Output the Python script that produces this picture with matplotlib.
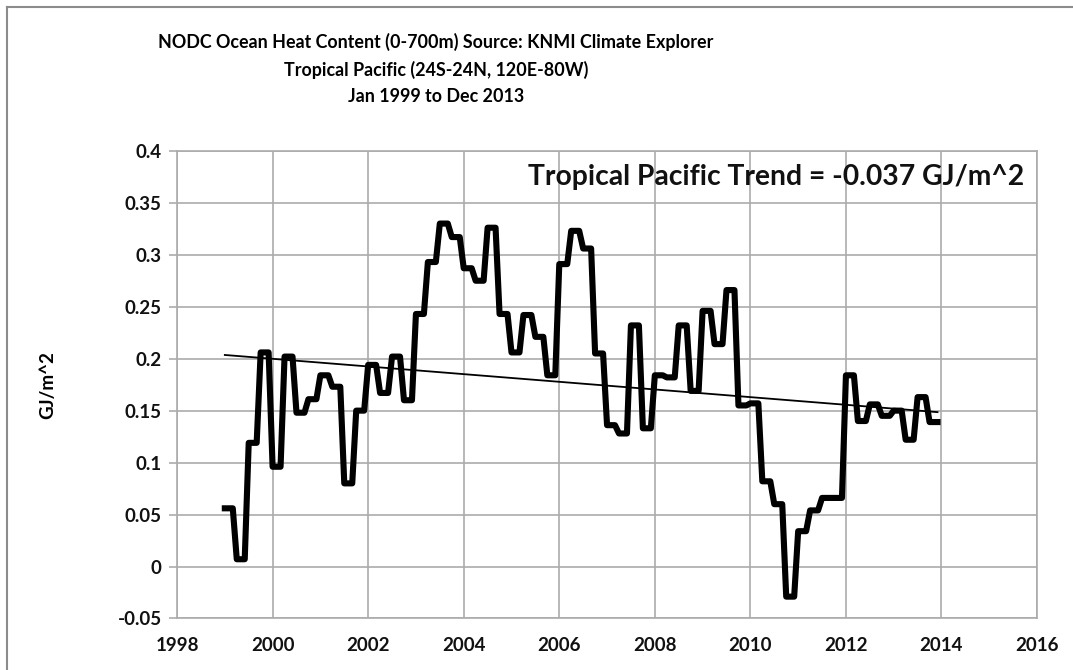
import numpy as np
import matplotlib
matplotlib.use('Agg')
import matplotlib.pyplot as plt
from matplotlib.lines import Line2D

plt.rcParams['font.family'] = ['Lato', 'DejaVu Sans']
plt.rcParams['font.weight'] = 'bold'

# quarterly OHC values (GJ/m^2), Q1 1999 .. Q4 2013
ohc_q = [0.056, 0.007, 0.119, 0.206, 0.096, 0.202, 0.148, 0.161,
         0.184, 0.173, 0.080, 0.150, 0.194, 0.167, 0.202, 0.160,
         0.243, 0.293, 0.330, 0.317, 0.287, 0.275, 0.326, 0.243,
         0.206, 0.242, 0.221, 0.184, 0.291, 0.323, 0.306, 0.205,
         0.136, 0.128, 0.232, 0.133, 0.184, 0.182, 0.232, 0.169,
         0.246, 0.214, 0.266, 0.155, 0.157, 0.082, 0.060, -0.029,
         0.034, 0.054, 0.066, 0.066, 0.184, 0.140, 0.156, 0.145,
         0.150, 0.122, 0.163, 0.139]
start_year = 1999
x_ticks = [1998, 2000, 2002, 2004, 2006, 2008, 2010, 2012, 2014, 2016]
y_ticks = [-0.05, 0, 0.05, 0.1, 0.15, 0.2, 0.25, 0.3, 0.35, 0.4]
y_ticklabels = ['-0.05', '0', '0.05', '0.1', '0.15', '0.2', '0.25', '0.3', '0.35', '0.4']

# monthly series: each quarterly value held for 3 months
ohc_m = np.repeat(ohc_q, 3)
t = start_year + np.arange(len(ohc_m)) / 12.0

fig = plt.figure(figsize=(10.73, 6.70), dpi=100)
ax = fig.add_axes([0.165, 0.0769, 0.8015, 0.698])

ax.plot(t, ohc_m, color='black', lw=4.4, solid_joinstyle='round', zorder=3)

# linear trend
p = np.polyfit(t, ohc_m, 1)
tt = np.array([t[0], t[-1]])
ax.plot(tt, np.polyval(p, tt), color='black', lw=1.3, zorder=4)

ax.set_xlim(1998, 2016)
ax.set_ylim(-0.05, 0.4)
ax.set_xticks(x_ticks)
ax.set_yticks(y_ticks)
ax.set_yticklabels(y_ticklabels)
ax.grid(True, color='#ababab', lw=1.2)
ax.set_axisbelow(True)
for s in ax.spines.values():
    s.set_color('#ababab')
    s.set_linewidth(1.2)
ax.tick_params(axis='x', length=0, pad=13, labelsize=13.5, labelcolor='#111111')
ax.tick_params(axis='y', length=6, color='#ababab', width=1.2, pad=5, labelsize=13.5,
               labelcolor='#111111')

ax.set_ylabel('GJ/m^2', fontsize=13.5, fontweight='bold')
ax.yaxis.set_label_coords(-0.141, 0.5)

ax.text(0.985, 0.945, 'Tropical Pacific Trend = -0.037 GJ/m^2', transform=ax.transAxes,
        ha='right', va='center', fontsize=20.3, fontweight='bold', color='#111111')

title_lines = ['NODC Ocean Heat Content (0-700m) Source: KNMI Climate Explorer',
               'Tropical Pacific (24S-24N, 120E-80W)',
               'Jan 1999 to Dec 2013']
for i, line in enumerate(title_lines):
    fig.text(0.4065, 1 - (42 + 27.5 * i) / 670, line, ha='center', va='center',
             fontsize=12.9, fontweight='bold')

# chart area border (left and top visible)
fig.add_artist(Line2D([7 / 1073, 7 / 1073], [0, 1 - 7 / 670], transform=fig.transFigure,
                      color='#8c8c8c', lw=1.5))
fig.add_artist(Line2D([7 / 1073, 1], [1 - 7 / 670, 1 - 7 / 670], transform=fig.transFigure,
                      color='#8c8c8c', lw=1.5))

fig.savefig('out.png', dpi=100)
